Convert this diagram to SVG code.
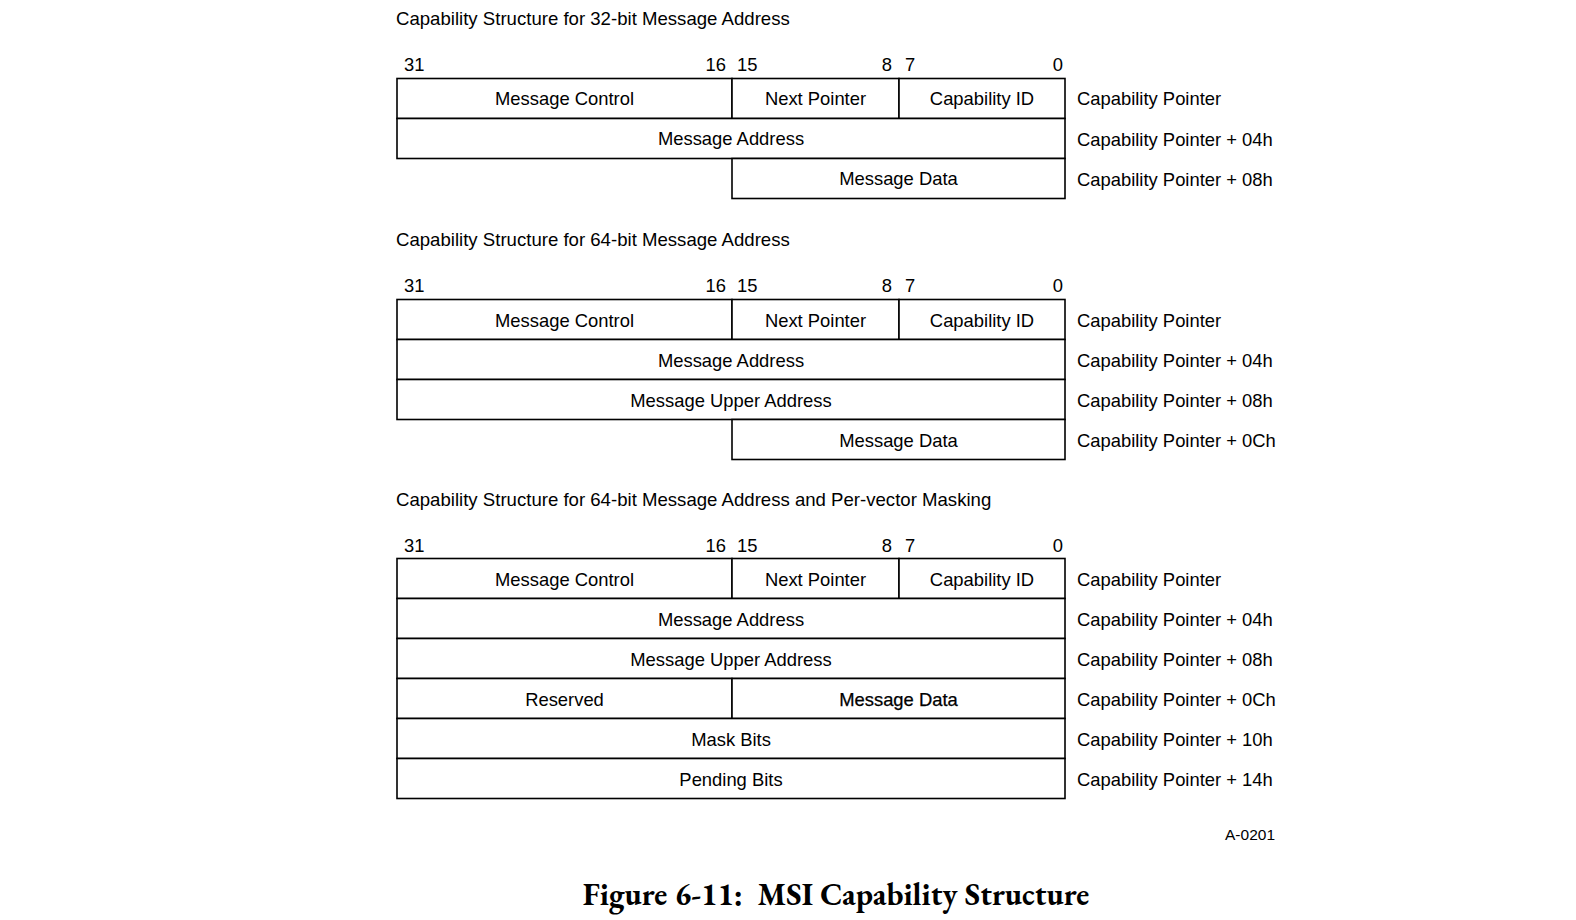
<svg xmlns="http://www.w3.org/2000/svg" width="1576" height="920" viewBox="0 0 1576 920">
<style>
  .cell { fill: #ffffff; stroke: #000000; stroke-width: 1.6; }
  .t { font-family: "Liberation Sans", Arial, Helvetica, sans-serif; font-size: 18.4px; fill: #000000; }
  .c { text-anchor: middle; }
  .e { text-anchor: end; }
  .title { font-family: "Liberation Sans", Arial, Helvetica, sans-serif; font-size: 18.6px; fill: #000000; }
  .bold { stroke: #000000; stroke-width: 0.25; }
  .cap { font-family: "EB Garamond", Garamond, "Liberation Serif", "Times New Roman", serif; font-size: 31.2px; font-weight: bold; fill: #000000; text-anchor: middle; white-space: pre; }
  .small { font-family: "Liberation Sans", Arial, Helvetica, sans-serif; font-size: 15.5px; fill: #000000; text-anchor: end; }
</style>
<rect x="0" y="0" width="1576" height="920" fill="#ffffff"/>

<!-- Section 1: 32-bit -->
<g id="sec1">
  <text class="title" x="396" y="25">Capability Structure for 32-bit Message Address</text>
  <g id="sec1-bits">
    <text class="t" x="404" y="71">31</text>
    <text class="t e" x="726" y="71">16</text>
    <text class="t" x="737" y="71">15</text>
    <text class="t e" x="892" y="71">8</text>
    <text class="t" x="905" y="71">7</text>
    <text class="t e" x="1063" y="71">0</text>
  </g>
  <g id="sec1-msgctrl"><rect class="cell" x="397" y="78.5" width="335" height="40"/><text class="t c" x="564.5" y="105">Message Control</text></g>
  <g id="sec1-nextptr"><rect class="cell" x="732" y="78.5" width="167" height="40"/><text class="t c" x="815.5" y="105">Next Pointer</text></g>
  <g id="sec1-capid"><rect class="cell" x="899" y="78.5" width="166" height="40"/><text class="t c" x="982" y="105">Capability ID</text></g>
  <g id="sec1-msgaddr"><rect class="cell" x="397" y="118.5" width="668" height="40"/><text class="t c" x="731" y="145">Message Address</text></g>
  <g id="sec1-msgdata"><rect class="cell" x="732" y="158.5" width="333" height="40"/><text class="t c" x="898.5" y="185">Message Data</text></g>
  <g id="sec1-offsets">
    <text class="t" x="1077" y="105">Capability Pointer</text>
    <text class="t" x="1077" y="145.5">Capability Pointer + 04h</text>
    <text class="t" x="1077" y="185.5">Capability Pointer + 08h</text>
  </g>
</g>

<!-- Section 2: 64-bit -->
<g id="sec2">
  <text class="title" x="396" y="246">Capability Structure for 64-bit Message Address</text>
  <g id="sec2-bits">
    <text class="t" x="404" y="292">31</text>
    <text class="t e" x="726" y="292">16</text>
    <text class="t" x="737" y="292">15</text>
    <text class="t e" x="892" y="292">8</text>
    <text class="t" x="905" y="292">7</text>
    <text class="t e" x="1063" y="292">0</text>
  </g>
  <g id="sec2-msgctrl"><rect class="cell" x="397" y="299.5" width="335" height="40"/><text class="t c" x="564.5" y="326.5">Message Control</text></g>
  <g id="sec2-nextptr"><rect class="cell" x="732" y="299.5" width="167" height="40"/><text class="t c" x="815.5" y="326.5">Next Pointer</text></g>
  <g id="sec2-capid"><rect class="cell" x="899" y="299.5" width="166" height="40"/><text class="t c" x="982" y="326.5">Capability ID</text></g>
  <g id="sec2-msgaddr"><rect class="cell" x="397" y="339.5" width="668" height="40"/><text class="t c" x="731" y="366.5">Message Address</text></g>
  <g id="sec2-upper"><rect class="cell" x="397" y="379.5" width="668" height="40"/><text class="t c" x="731" y="406.5">Message Upper Address</text></g>
  <g id="sec2-msgdata"><rect class="cell" x="732" y="419.5" width="333" height="40"/><text class="t c" x="898.5" y="446.5">Message Data</text></g>
  <g id="sec2-offsets">
    <text class="t" x="1077" y="326.5">Capability Pointer</text>
    <text class="t" x="1077" y="366.5">Capability Pointer + 04h</text>
    <text class="t" x="1077" y="406.5">Capability Pointer + 08h</text>
    <text class="t" x="1077" y="446.5">Capability Pointer + 0Ch</text>
  </g>
</g>

<!-- Section 3: 64-bit with per-vector masking -->
<g id="sec3">
  <text class="title" x="396" y="506">Capability Structure for 64-bit Message Address and Per-vector Masking</text>
  <g id="sec3-bits">
    <text class="t" x="404" y="552">31</text>
    <text class="t e" x="726" y="552">16</text>
    <text class="t" x="737" y="552">15</text>
    <text class="t e" x="892" y="552">8</text>
    <text class="t" x="905" y="552">7</text>
    <text class="t e" x="1063" y="552">0</text>
  </g>
  <g id="sec3-msgctrl"><rect class="cell" x="397" y="558.5" width="335" height="40"/><text class="t c" x="564.5" y="585.5">Message Control</text></g>
  <g id="sec3-nextptr"><rect class="cell" x="732" y="558.5" width="167" height="40"/><text class="t c" x="815.5" y="585.5">Next Pointer</text></g>
  <g id="sec3-capid"><rect class="cell" x="899" y="558.5" width="166" height="40"/><text class="t c" x="982" y="585.5">Capability ID</text></g>
  <g id="sec3-msgaddr"><rect class="cell" x="397" y="598.5" width="668" height="40"/><text class="t c" x="731" y="625.5">Message Address</text></g>
  <g id="sec3-upper"><rect class="cell" x="397" y="638.5" width="668" height="40"/><text class="t c" x="731" y="665.5">Message Upper Address</text></g>
  <g id="sec3-reserved"><rect class="cell" x="397" y="678.5" width="335" height="40"/><text class="t c" x="564.5" y="705.5">Reserved</text></g>
  <g id="sec3-msgdata"><rect class="cell" x="732" y="678.5" width="333" height="40"/><text class="t c bold" x="898.5" y="705.5">Message Data</text></g>
  <g id="sec3-mask"><rect class="cell" x="397" y="718.5" width="668" height="40"/><text class="t c" x="731" y="745.5">Mask Bits</text></g>
  <g id="sec3-pending"><rect class="cell" x="397" y="758.5" width="668" height="40"/><text class="t c" x="731" y="785.5">Pending Bits</text></g>
  <g id="sec3-offsets">
    <text class="t" x="1077" y="585.5">Capability Pointer</text>
    <text class="t" x="1077" y="625.5">Capability Pointer + 04h</text>
    <text class="t" x="1077" y="665.5">Capability Pointer + 08h</text>
    <text class="t" x="1077" y="705.5">Capability Pointer + 0Ch</text>
    <text class="t" x="1077" y="745.5">Capability Pointer + 10h</text>
    <text class="t" x="1077" y="785.5">Capability Pointer + 14h</text>
  </g>
</g>

<g id="connectors"></g>

<text class="small" x="1275" y="840">A-0201</text>
<text class="cap" x="836" y="905">Figure 6-11:  MSI Capability Structure</text>
</svg>
